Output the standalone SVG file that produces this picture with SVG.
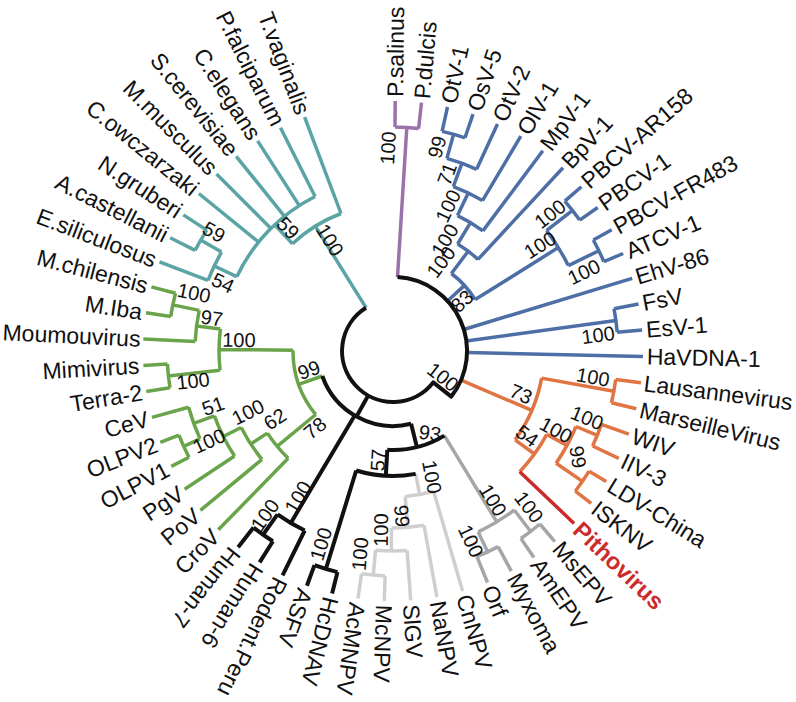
<svg xmlns="http://www.w3.org/2000/svg" width="796" height="702" viewBox="0 0 796 702">
<style>
.lf{font-family:"Liberation Sans",Arial,sans-serif;font-size:23px;fill:#111;dominant-baseline:central}
.e{text-anchor:end}
.bs{font-family:"Liberation Sans",Arial,sans-serif;font-size:20px;fill:#111;text-anchor:middle;dominant-baseline:central}
.pv{font-family:"Liberation Sans",Arial,sans-serif;font-size:23.5px;font-weight:bold;fill:#cc2b2b;dominant-baseline:central}
#connectors path{fill:none;stroke-width:3.5;stroke-linejoin:round}
#connectors path.k{stroke:#111;stroke-width:4}
.t{stroke:#5ba4a5}
.p{stroke:#9b72aa}
.b{stroke:#4e6ea6}
.g{stroke:#6aa44a}
.o{stroke:#e07443}
.r{stroke:#cc2b2b}
.x{stroke:#a6a6a6}
.l{stroke:#cfcfcf}
</style>
<g id="connectors">
<path class="t" d="M366.0,307.7 L315.3,226.2 M292.5,243.7 A147,147 0 0,1 341.0,213.5 M341.0,213.5 L304.6,117.2 M292.5,243.7 L274.7,224.7 M236.8,276.7 A173,173 0 0,1 315.1,196.5 M258.6,242.0 L198.8,193.5 M270.9,228.5 L216.5,173.9 M284.5,216.3 L236.2,156.3 M299.3,205.6 L257.6,140.9 M315.1,196.5 L280.5,127.8 M236.8,276.7 L214.2,266.0 M208.0,280.4 A198,198 0 0,1 221.5,252.1 M208.0,280.4 L159.5,261.8 M221.5,252.1 L200.7,240.1 M195.1,250.4 A222,222 0 0,1 206.8,230.1 M195.1,250.4 L170.2,237.7 M206.8,230.1 L183.3,214.9"/>
<path class="p" d="M397.5,277.1 L406.8,127.4 M395.0,127.0 A224,224 0 0,1 418.6,128.5 M395.0,127.0 L395.2,101.0 M418.6,128.5 L421.5,102.6"/>
<path class="b" d="M447.5,301.0 L464.5,285.4 M451.4,273.5 A97,97 0 0,1 475.2,299.6 M475.2,299.6 L558.3,247.6 M546.5,230.7 A195,195 0 0,1 568.3,265.6 M546.5,230.7 L572.5,210.4 M564.8,201.1 A228,228 0 0,1 579.7,220.1 M564.8,201.1 L581.4,186.7 M579.7,220.1 L597.7,207.5 M568.3,265.6 L598.9,250.7 M593.3,240.0 A229,229 0 0,1 603.9,261.7 M593.3,240.0 L611.7,229.8 M603.9,261.7 L623.2,253.5"/>
<path class="b" d="M451.4,273.5 L468.2,251.2 M457.6,244.0 A125,125 0 0,1 478.0,259.4 M478.0,259.4 L563.0,167.7 M457.6,244.0 L470.5,222.6 M457.5,215.6 A150,150 0 0,1 482.9,230.9 M482.9,230.9 L542.8,150.8 M457.5,215.6 L468.2,193.0 M453.3,186.7 A175,175 0 0,1 482.5,200.6 M482.5,200.6 L520.8,136.2 M453.3,186.7 L461.9,163.3 M446.9,158.4 A200,200 0 0,1 476.6,169.3 M476.6,169.3 L497.5,123.9 M446.9,158.4 L453.6,134.3 M442.1,131.4 A225,225 0 0,1 465.0,137.8 M442.1,131.4 L447.5,107.0 M465.0,137.8 L473.0,114.1"/>
<path class="b" d="M463.8,329.5 L632.2,278.3 M466.3,340.9 L615.9,320.4 M614.0,308.7 A225,225 0 0,1 617.2,332.2 M614.0,308.7 L638.5,304.0 M617.2,332.2 L642.1,330.1 M467.0,352.6 L642.9,356.5"/>
<path class="o" d="M461.0,380.1 L531.8,410.4 M541.6,378.1 A151,151 0 0,1 515.1,439.8 M541.6,378.1 L613.9,391.2 M615.7,379.5 A224.5,224.5 0 0,1 611.4,402.8 M615.7,379.5 L641.0,382.8 M611.4,402.8 L636.3,408.7 M515.1,439.8 L534.5,454.0 M546.8,434.4 A175,175 0 0,1 519.7,471.7 M546.8,434.4 L567.0,445.4 M576.0,426.5 A198,198 0 0,1 556.1,463.2 M576.0,426.5 L597.3,435.3 M601.4,424.4 A221,221 0 0,1 592.6,446.0 M601.4,424.4 L628.8,434.1 M592.6,446.0 L618.8,458.4 M556.1,463.2 L582.5,481.4 M589.1,471.2 A230,230 0 0,1 575.3,491.2 M589.1,471.2 L606.2,481.6 M575.3,491.2 L591.2,503.4"/>
<path class="r" d="M519.7,471.7 L574.1,523.4"/>
<path class="x" d="M444.4,435.6 L496.8,521.9 M514.3,510.0 A200,200 0 0,1 478.2,531.9 M514.3,510.0 L530.6,531.5 M539.9,524.0 A227,227 0 0,1 520.9,538.5 M539.9,524.0 L554.8,541.6 M520.9,538.5 L533.9,557.5 M478.2,531.9 L487.6,551.8 M498.1,546.6 A222,222 0 0,1 476.9,556.6 M498.1,546.6 L511.3,571.2 M476.9,556.6 L487.5,582.5"/>
<path class="l" d="M415.7,473.9 L419.6,494.6 M433.6,491.2 A146,146 0 0,1 405.2,496.5 M433.6,491.2 L462.6,591.1 M405.2,496.5 L407.8,527.4 M424.0,525.3 A177,177 0 0,1 391.5,528.0 M424.0,525.3 L436.9,597.1 M391.5,528.0 L391.3,551.0 M407.1,550.5 A200,200 0 0,1 375.5,550.2 M407.1,550.5 L410.7,600.4 M375.5,550.2 L373.3,575.1 M385.1,575.9 A225,225 0 0,1 361.5,573.8 M385.1,575.9 L384.3,600.9 M361.5,573.8 L358.0,598.5"/>
<path class="g" d="M322.3,376.0 L298.7,384.3 M315.7,414.5 A100,100 0 0,1 293.0,350.2 M293.0,350.2 L219.0,349.5 M220.1,370.2 A174,174 0 0,1 220.4,328.9 M220.4,328.9 L196.6,325.9 M195.2,341.5 A198,198 0 0,1 199.2,310.4 M195.2,341.5 L143.3,339.0 M199.2,310.4 L172.8,304.9 M170.7,316.6 A225,225 0 0,1 175.5,293.3 M170.7,316.6 L146.0,312.8 M175.5,293.3 L151.4,286.9 M220.1,370.2 L168.4,375.9 M170.0,387.7 A226,226 0 0,1 167.4,364.0 M170.0,387.7 L146.3,391.6 M167.4,364.0 L143.4,365.4"/>
<path class="g" d="M315.7,414.5 L277.1,446.3 M288.2,458.3 A150,150 0 0,1 267.4,433.1 M288.2,458.3 L218.3,529.8 M267.4,433.1 L250.7,444.0 M262.0,459.4 A170,170 0 0,1 241.2,427.5 M262.0,459.4 L200.4,510.4 M241.2,427.5 L223.3,436.5 M234.6,456.0 A190,190 0 0,1 214.4,415.8 M234.6,456.0 L184.6,489.2 M214.4,415.8 L193.7,423.3 M200.0,438.8 A212,212 0 0,1 188.6,407.3 M188.6,407.3 L152.0,417.4 M200.0,438.8 L183.7,446.3 M189.0,457.2 A230,230 0 0,1 178.9,435.1 M189.0,457.2 L171.3,466.4 M178.9,435.1 L160.3,442.4"/>
<path class="k" d="M397.5,277.1 A74,74 0 0,1 451.3,396.6 L433.2,382.4 A51,51 0 1,1 366.0,307.7"/>
<path class="k" d="M368.2,395.6 L356.5,416.5 M411.1,423.8 A75,75 0 0,1 322.3,376.0 M354.7,415.5 L290.8,522.9 M411.1,423.8 L416.9,447.1 M444.4,435.6 A99,99 0 0,1 387.3,449.8 M387.3,449.8 L385.8,475.8 M415.7,473.9 A125,125 0 0,1 356.2,470.5 M356.2,470.5 L325.9,568.9 M337.5,572.1 A228,228 0 0,1 314.5,565.1 M337.5,572.1 L332.1,593.5 M314.5,565.1 L306.9,585.7"/>
<path class="k" d="M304.7,530.5 A200,200 0 0,1 277.5,514.3 M304.7,530.5 L282.6,575.3 M277.5,514.3 L263.1,534.7 M272.9,541.3 A225,225 0 0,1 253.5,527.6 M272.9,541.3 L259.6,562.4 M253.5,527.6 L238.1,547.2"/>
</g>
<g id="leaves">
<g id="n-psal"><text class="lf" transform="translate(395.2,97.0) rotate(-89.5)">P.salinus</text></g>
<g id="n-pdul"><text class="lf" transform="translate(422.0,98.7) rotate(-85)">P.dulcis</text></g>
<g id="n-otv1"><text class="lf" transform="translate(448.4,103.1) rotate(-77.4)">OtV-1</text></g>
<g id="n-osv5"><text class="lf" transform="translate(474.2,110.3) rotate(-71.35)">OsV-5</text></g>
<g id="n-otv2"><text class="lf" transform="translate(499.1,120.2) rotate(-65.3)">OtV-2</text></g>
<g id="n-olv1"><text class="lf" transform="translate(522.9,132.7) rotate(-59.25)">OlV-1</text></g>
<g id="n-mpv1"><text class="lf" transform="translate(545.1,147.6) rotate(-53.2)">MpV-1</text></g>
<g id="n-bpv1"><text class="lf" transform="translate(565.7,164.8) rotate(-47.15)">BpV-1</text></g>
<g id="n-ar158"><text class="lf" transform="translate(584.4,184.0) rotate(-41.1)">PBCV-AR158</text></g>
<g id="n-pbcv1"><text class="lf" transform="translate(601.0,205.1) rotate(-35.05)">PBCV-1</text></g>
<g id="n-fr483"><text class="lf" transform="translate(615.1,227.9) rotate(-29)">PBCV-FR483</text></g>
<g id="n-atcv"><text class="lf" transform="translate(626.9,252.0) rotate(-22.95)">ATCV-1</text></g>
<g id="n-ehv"><text class="lf" transform="translate(636.0,277.2) rotate(-16.9)">EhV-86</text></g>
<g id="n-fsv"><text class="lf" transform="translate(642.5,303.2) rotate(-10.85)">FsV</text></g>
<g id="n-esv"><text class="lf" transform="translate(646.1,329.7) rotate(-4.8)">EsV-1</text></g>
<g id="n-hav"><text class="lf" transform="translate(646.9,356.5) rotate(1.25)">HaVDNA-1</text></g>
<g id="n-laus"><text class="lf" transform="translate(644.0,383.2) rotate(7.3)">Lausannevirus</text></g>
<g id="n-mars"><text class="lf" transform="translate(640.1,409.6) rotate(13.35)">MarseilleVirus</text></g>
<g id="n-wiv"><text class="lf" transform="translate(632.6,435.4) rotate(19.4)">WIV</text></g>
<g id="n-iiv3"><text class="lf" transform="translate(622.4,460.1) rotate(25.45)">IIV-3</text></g>
<g id="n-ldv"><text class="lf" transform="translate(609.6,483.7) rotate(31.5)">LDV-China</text></g>
<g id="n-iskn"><text class="lf" transform="translate(594.4,505.8) rotate(37.55)">ISKNV</text></g>
<g id="n-pith"><text class="pv" transform="translate(576.9,526.2) rotate(43.6)">Pithovirus</text></g>
<g id="n-msepv"><text class="lf" transform="translate(557.4,544.6) rotate(49.65)">MsEPV</text></g>
<g id="n-amepv"><text class="lf" transform="translate(536.1,560.8) rotate(55.7)">AmEPV</text></g>
<g id="n-myx"><text class="lf" transform="translate(513.2,574.7) rotate(61.75)">Myxoma</text></g>
<g id="n-orf"><text class="lf" transform="translate(489.0,586.2) rotate(67.8)">Orf</text></g>
<g id="n-cnnpv"><text class="lf" transform="translate(463.7,595.0) rotate(73.85)">CnNPV</text></g>
<g id="n-nanpv"><text class="lf" transform="translate(437.6,601.1) rotate(79.9)">NaNPV</text></g>
<g id="n-slgv"><text class="lf" transform="translate(410.9,604.4) rotate(85.95)">SlGV</text></g>
<g id="n-mcnpv"><text class="lf" transform="translate(384.1,604.8) rotate(92)">McNPV</text></g>
<g id="n-acmnpv"><text class="lf" transform="translate(357.4,602.5) rotate(98.05)">AcMNPV</text></g>
<g id="n-hcdnav"><text class="lf" transform="translate(331.1,597.4) rotate(104.1)">HcDNAV</text></g>
<g id="n-asfv"><text class="lf" transform="translate(305.5,589.5) rotate(110.15)">ASFV</text></g>
<g id="n-rod"><text class="lf" transform="translate(280.9,578.9) rotate(116.2)">Rodent.Peru</text></g>
<g id="n-hum6"><text class="lf" transform="translate(257.5,565.8) rotate(122.25)">Human-6</text></g>
<g id="n-hum7"><text class="lf" transform="translate(235.6,550.3) rotate(128.3)">Human-7</text></g>
<g id="n-crov"><text class="lf e" transform="translate(215.5,532.6) rotate(-45.65)">CroV</text></g>
<g id="n-pov"><text class="lf e" transform="translate(197.3,512.9) rotate(-39.6)">PoV</text></g>
<g id="n-pgv"><text class="lf e" transform="translate(181.3,491.4) rotate(-33.55)">PgV</text></g>
<g id="n-olpv1"><text class="lf e" transform="translate(167.7,468.3) rotate(-27.5)">OLPV1</text></g>
<g id="n-olpv2"><text class="lf e" transform="translate(156.6,443.9) rotate(-21.45)">OLPV2</text></g>
<g id="n-cev"><text class="lf e" transform="translate(148.1,418.5) rotate(-15.4)">CeV</text></g>
<g id="n-terra"><text class="lf e" transform="translate(142.4,392.3) rotate(-9.35)">Terra-2</text></g>
<g id="n-mimi"><text class="lf e" transform="translate(139.4,365.6) rotate(-3.3)">Mimivirus</text></g>
<g id="n-moum"><text class="lf e" transform="translate(140.5,338.8) rotate(2.75)">Moumouvirus</text></g>
<g id="n-miba"><text class="lf e" transform="translate(142.0,312.1) rotate(8.8)">M.Iba</text></g>
<g id="n-mchil"><text class="lf e" transform="translate(147.5,285.9) rotate(14.85)">M.chilensis</text></g>
<g id="n-esil"><text class="lf e" transform="translate(155.7,260.4) rotate(20.9)">E.siliculosus</text></g>
<g id="n-acas"><text class="lf e" transform="translate(166.6,235.9) rotate(26.95)">A.castellanii</text></g>
<g id="n-ngru"><text class="lf e" transform="translate(180.0,212.7) rotate(33)">N.gruberi</text></g>
<g id="n-cowc"><text class="lf e" transform="translate(195.7,191.0) rotate(39.05)">C.owczarzaki</text></g>
<g id="n-mmus"><text class="lf e" transform="translate(213.7,171.1) rotate(45.1)">M.musculus</text></g>
<g id="n-scer"><text class="lf e" transform="translate(233.7,153.2) rotate(51.15)">S.cerevisiae</text></g>
<g id="n-cele"><text class="lf e" transform="translate(255.4,137.5) rotate(57.2)">C.elegans</text></g>
<g id="n-pfal"><text class="lf e" transform="translate(278.7,124.2) rotate(63.25)">P.falciparum</text></g>
<g id="n-tvag"><text class="lf e" transform="translate(303.2,113.4) rotate(69.3)">T.vaginalis</text></g>
</g>
<g id="support">
<text class="bs" transform="translate(214,232) rotate(30)">59</text>
<text class="bs" transform="translate(223,283) rotate(25.4)">54</text>
<text class="bs" transform="translate(288,228) rotate(46.9)">59</text>
<text class="bs" transform="translate(330,240) rotate(58.1)">100</text>
<text class="bs" transform="translate(388,148) rotate(-86.5)">100</text>
<text class="bs" transform="translate(437,147) rotate(-74.4)">99</text>
<text class="bs" transform="translate(447,174) rotate(-69.8)">71</text>
<text class="bs" transform="translate(448,206) rotate(-64.5)">100</text>
<text class="bs" transform="translate(445,240) rotate(-58.9)">100</text>
<text class="bs" transform="translate(441,262) rotate(-53)">100</text>
<text class="bs" transform="translate(462,301) rotate(-42.5)">83</text>
<text class="bs" transform="translate(550,214) rotate(-38.1)">100</text>
<text class="bs" transform="translate(540,245) rotate(-32)">100</text>
<text class="bs" transform="translate(584,272) rotate(-26)">100</text>
<text class="bs" transform="translate(598,335) rotate(-7.8)">100</text>
<text class="bs" transform="translate(443,377) rotate(38)">100</text>
<text class="bs" transform="translate(521,394) rotate(23.2)">73</text>
<text class="bs" transform="translate(593,377) rotate(10.3)">100</text>
<text class="bs" transform="translate(527,436) rotate(36)">54</text>
<text class="bs" transform="translate(556,430) rotate(28.5)">100</text>
<text class="bs" transform="translate(587,418) rotate(22.4)">100</text>
<text class="bs" transform="translate(578,457) rotate(80)">99</text>
<text class="bs" transform="translate(493,500) rotate(58.7)">100</text>
<text class="bs" transform="translate(529,507) rotate(52.7)">100</text>
<text class="bs" transform="translate(471,541) rotate(64.8)">100</text>
<text class="bs" transform="translate(430,433) rotate(8)">93</text>
<text class="bs" transform="translate(378,460) rotate(-86.7)">57</text>
<text class="bs" transform="translate(298,497) rotate(-59.3)">100</text>
<text class="bs" transform="translate(265,515) rotate(-54.7)">100</text>
<text class="bs" transform="translate(321,544) rotate(-72.9)">100</text>
<text class="bs" transform="translate(432,477) rotate(79.5)">100</text>
<text class="bs" transform="translate(402,516) rotate(85.2)">99</text>
<text class="bs" transform="translate(381,530) rotate(-89.5)">100</text>
<text class="bs" transform="translate(360,554) rotate(-85)">100</text>
<text class="bs" transform="translate(194,293) rotate(11.8)">100</text>
<text class="bs" transform="translate(212,318) rotate(7.3)">97</text>
<text class="bs" transform="translate(239,340) rotate(0.5)">100</text>
<text class="bs" transform="translate(193,381) rotate(-6.3)">100</text>
<text class="bs" transform="translate(309,370) rotate(-19.5)">99</text>
<text class="bs" transform="translate(315,428) rotate(-39.4)">78</text>
<text class="bs" transform="translate(213,406) rotate(-19.9)">51</text>
<text class="bs" transform="translate(209,441) rotate(-24.5)">100</text>
<text class="bs" transform="translate(248,412) rotate(-26.7)">100</text>
<text class="bs" transform="translate(275,419) rotate(-33.2)">62</text>
</g>
</svg>
